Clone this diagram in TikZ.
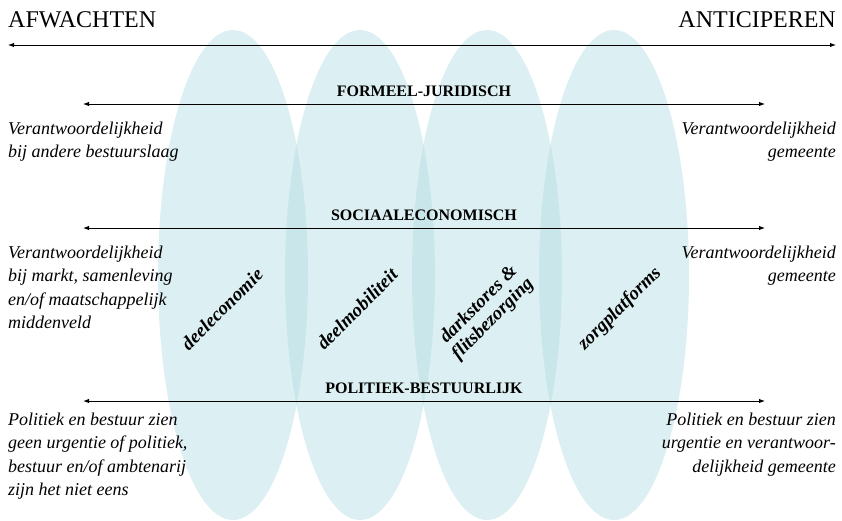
\documentclass[tikz,border=0pt]{standalone}
\usepackage{fontspec}
\setmainfont{Liberation Serif}
\usetikzlibrary{arrows.meta}
\usetikzlibrary{positioning}

\definecolor{lagoon}{RGB}{178,220,226}

\begin{document}
\begin{tikzpicture}[x=1pt, y=-1pt, every path/.style={>={Latex[length=6pt,width=4.5pt]}},
	blob/.style={fill=lagoon, fill opacity=0.45},
	axis/.style={<->, line width=1pt},
	dim/.style={font=\fontsize{16}{18}\selectfont\bfseries, inner sep=0pt, text depth=0pt, above=7pt},
	side/.style={font=\fontsize{18}{23.5}\selectfont\itshape, inner sep=0pt},
	topic/.style={font=\fontsize{19}{20}\selectfont\bfseries\itshape, rotate=45, align=center}]
	\useasboundingbox (0,0) rectangle (842,520);
	% de vier ovalen
	\foreach \cx in {233,360,487,614}
		\fill[blob] (\cx,275) ellipse [x radius=75pt, y radius=245pt];
	\node (deeleco) at (222,309) [topic] {deeleconomie};
	\node (deelmob) at (357,309) [topic] {deelmobiliteit};
	\node (dark) at (486,312) [topic] {darkstores \&\\flitsbezorging};
	\node (zorg) at (620,309) [topic] {zorgplatforms};
	% hoofdas
	\coordinate (wL) at (8,45);
	\coordinate (wR) at (836,45);
	\draw[axis] (wL) -- (wR);
	\node (afw) at (8,27) [anchor=base west, inner sep=0pt, font=\fontsize{24}{28}\selectfont] {AFWACHTEN};
	\node (anti) at (836,27) [anchor=base east, inner sep=0pt, font=\fontsize{24}{28}\selectfont] {ANTICIPEREN};
	% formeel-juridisch
	\coordinate (fjL) at (83,104);
	\coordinate (fjR) at (765,104);
	\draw[axis] (fjL) -- node[dim] (fj) {FORMEEL-JURIDISCH} (fjR);
	\node (fjA) at (8,121.5) [side, anchor=north west, align=left] {Verantwoordelijkheid\\bij andere bestuurslaag};
	\node (fjB) at (836,121.5) [side, anchor=north east, align=right] {Verantwoordelijkheid\\gemeente};
	% sociaaleconomisch
	\coordinate (seL) at (83,228);
	\coordinate (seR) at (765,228);
	\draw[axis] (seL) -- node[dim] (se) {SOCIAALECONOMISCH} (seR);
	\node (seA) at (8,245.5) [side, anchor=north west, align=left] {Verantwoordelijkheid\\bij markt, samenleving\\en/of maatschappelijk\\middenveld};
	\node (seB) at (836,245.5) [side, anchor=north east, align=right] {Verantwoordelijkheid\\gemeente};
	% politiek-bestuurlijk
	\coordinate (pbL) at (83,401);
	\coordinate (pbR) at (765,401);
	\draw[axis] (pbL) -- node[dim] (pb) {POLITIEK-BESTUURLIJK} (pbR);
	\node (pbA) at (8,412.5) [side, anchor=north west, align=left] {Politiek en bestuur zien\\geen urgentie of politiek,\\bestuur en/of ambtenarij\\zijn het niet eens};
	\node (pbB) at (836,412.5) [side, anchor=north east, align=right] {Politiek en bestuur zien\\urgentie en verantwoor-\\delijkheid gemeente};
\end{tikzpicture}
\end{document}
